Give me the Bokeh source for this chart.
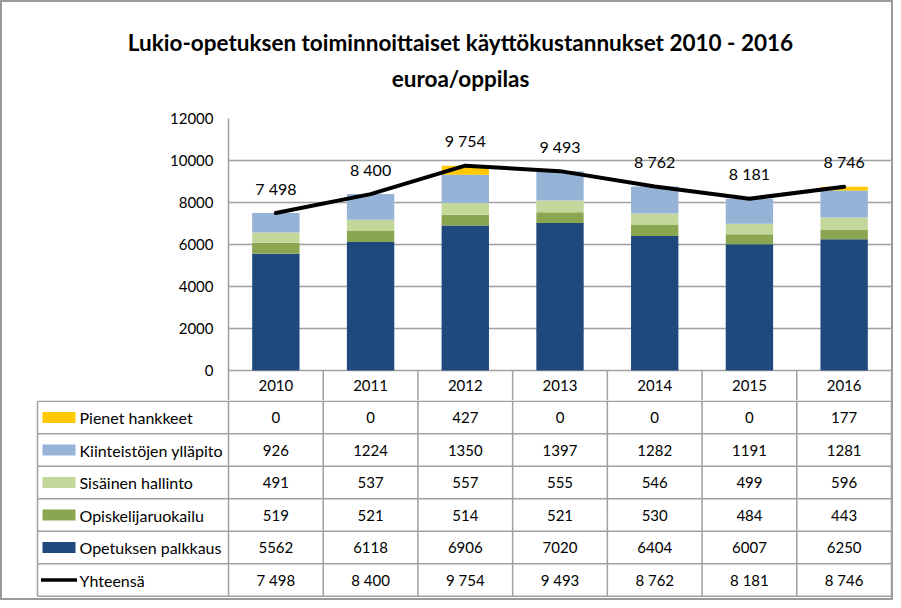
from bokeh.plotting import figure
from bokeh.models import ColumnDataSource, Range1d, FixedTicker, NumeralTickFormatter
from bokeh.layouts import column
from bokeh.core.properties import value
from bokeh.embed import file_html
from bokeh.resources import INLINE

# ---------------- data ----------------
years = ["2010", "2011", "2012", "2013", "2014", "2015", "2016"]
opetuksen_palkkaus = [5562, 6118, 6906, 7020, 6404, 6007, 6250]
opiskelijaruokailu = [519, 521, 514, 521, 530, 484, 443]
sisainen_hallinto = [491, 537, 557, 555, 546, 499, 596]
kiinteistojen_yllapito = [926, 1224, 1350, 1397, 1282, 1191, 1281]
pienet_hankkeet = [0, 0, 427, 0, 0, 0, 177]
yhteensa = [7498, 8400, 9754, 9493, 8762, 8181, 8746]

series_names = ["Opetuksen palkkaus", "Opiskelijaruokailu", "Sisäinen hallinto",
                "Kiinteistöjen ylläpito", "Pienet hankkeet"]
series_values = [opetuksen_palkkaus, opiskelijaruokailu, sisainen_hallinto,
                 kiinteistojen_yllapito, pienet_hankkeet]
series_colors = ["#1F497D", "#8AA650", "#C4D79B", "#95B3D7", "#FFC800"]
total_name = "Yhteensä"
y_ticks = [0, 2000, 4000, 6000, 8000, 10000, 12000]

title_1 = "Lukio-opetuksen toiminnoittaiset käyttökustannukset 2010 - 2016"
title_2 = "euroa/oppilas"

FNAME = "Lato"
FONT = value(FNAME)
GRIDC = "#A0A0A0"
TXT = "#000000"

W = 893
H = 600
FRAME_L = 228
FRAME_W = 663
cat_w = FRAME_W / len(years)          # px per category


def fmt_space(v):
    return f"{v:,}".replace(",", " ")


def bare(fig):
    fig.grid.visible = False
    fig.border_fill_color = None
    fig.background_fill_color = None
    fig.outline_line_color = None


x_pos = [i + 0.5 for i in range(len(years))]

# ---------------- title figure ----------------
TH = 108
pt = figure(width=W, height=TH, output_backend="svg", toolbar_location=None,
            x_range=Range1d(0, W), y_range=Range1d(0, TH),
            x_axis_location=None, y_axis_location=None,
            min_border=0, frame_align=False)
bare(pt)
pt.text(x=[460, 460], y=[TH - 42, TH - 78], text=[title_1, title_2],
        text_align="center", text_baseline="middle", text_font=FONT,
        text_font_size="22.5px", text_font_style="bold", text_color=TXT)

# ---------------- chart figure (plot area + header row of years) ----------------
PLOT_H = 252          # px for 0..12000
HEAD_H = 30           # px header row below the 0 line
TOP = 10
CH = TOP + PLOT_H + HEAD_H
units_per_px = 12000 / PLOT_H
y_bottom = -HEAD_H * units_per_px

p = figure(width=W, height=CH, output_backend="svg", toolbar_location=None,
           x_range=Range1d(0, len(years) + 1 / cat_w), y_range=Range1d(y_bottom, 12000),
           x_axis_location=None, min_border_left=FRAME_L,
           min_border_right=W - FRAME_L - FRAME_W - 1,
           min_border_top=TOP, min_border_bottom=0, frame_align=False)
bare(p)
p.ygrid.visible = True
p.ygrid.ticker = FixedTicker(ticks=y_ticks)
p.ygrid.grid_line_color = GRIDC
p.ygrid.grid_line_width = 1.5
yax = p.yaxis[0]
yax.ticker = FixedTicker(ticks=y_ticks)
yax.formatter = NumeralTickFormatter(format="0")
yax.axis_line_color = GRIDC
yax.axis_line_width = 1.5
yax.major_tick_out = 0
yax.major_tick_in = 0
yax.minor_tick_out = 0
yax.minor_tick_in = 0
yax.major_label_standoff = 15
yax.major_label_text_font = FNAME
yax.major_label_text_font_size = "15px"
yax.major_label_text_color = TXT

data = {"x": x_pos, "total": yhteensa, "label": [fmt_space(v) for v in yhteensa]}
for n, v in zip(series_names, series_values):
    data[n] = v
src = ColumnDataSource(data)
p.vbar_stack(series_names, x="x", width=0.5, color=series_colors, line_color=None,
             source=src)
p.line(x="x", y="total", source=src, line_color=TXT, line_width=4,
       line_join="round", line_cap="round")
p.text(x="x", y="total", text="label", source=src, y_offset=-25,
       text_align="center", text_baseline="middle", text_font=FONT,
       text_font_size="16px", text_color=TXT)

# header row: vertical dividers and years
div_x = list(range(1, len(years) + 1))
p.segment(x0=div_x, y0=[0] * len(div_x), x1=div_x, y1=[y_bottom] * len(div_x),
          line_color=GRIDC, line_width=1.5)
p.text(x=x_pos, y=[y_bottom / 2] * len(years), text=years,
       text_align="center", text_baseline="middle", text_font=FONT,
       text_font_size="15px", text_color=TXT)

# ---------------- data table figure ----------------
ROW_H = 32.5
TBH = H - TH - CH
LABEL_L = 37  # px from figure left
tx0 = -FRAME_L / cat_w
tx1 = len(years) + (W - FRAME_L - FRAME_W) / cat_w
t = figure(width=W, height=TBH, output_backend="svg", toolbar_location=None,
           x_range=Range1d(tx0, tx1), y_range=Range1d(0, TBH),
           x_axis_location=None, y_axis_location=None,
           min_border=0, frame_align=False)
bare(t)

lab_left = (LABEL_L - FRAME_L) / cat_w
row_names = ["Pienet hankkeet", "Kiinteistöjen ylläpito", "Sisäinen hallinto",
             "Opiskelijaruokailu", "Opetuksen palkkaus", total_name]
row_vals = [pienet_hankkeet, kiinteistojen_yllapito, sisainen_hallinto,
            opiskelijaruokailu, opetuksen_palkkaus, yhteensa]
row_cols = ["#FFC800", "#95B3D7", "#C4D79B", "#8AA650", "#1F497D", None]
nrows = len(row_names)
top_y = TBH - 0.75
bottom = top_y - nrows * ROW_H

hx0, hx1, hy0, hy1 = [], [], [], []
for r in range(nrows + 1):
    yy = top_y - r * ROW_H
    hx0.append(lab_left); hx1.append(len(years)); hy0.append(yy); hy1.append(yy)
hx0.append(lab_left); hx1.append(lab_left); hy0.append(top_y); hy1.append(bottom)
for c in range(len(years) + 1):
    hx0.append(c); hx1.append(c); hy0.append(TBH); hy1.append(bottom)
t.segment(x0=hx0, y0=hy0, x1=hx1, y1=hy1, line_color=GRIDC, line_width=1.5)

key_l = (LABEL_L + 5 - FRAME_L) / cat_w
key_r = (LABEL_L + 38 - FRAME_L) / cat_w
txt_l = (LABEL_L + 42 - FRAME_L) / cat_w
for r, (nm, vals, colr) in enumerate(zip(row_names, row_vals, row_cols)):
    yc = top_y - r * ROW_H - ROW_H / 2
    if colr is not None:
        t.quad(left=[key_l], right=[key_r], bottom=[yc - 5.5], top=[yc + 5.5],
               fill_color=colr, line_color=None)
        labels = [str(v) for v in vals]
    else:
        t.segment(x0=[key_l - 1.5 / cat_w], y0=[yc], x1=[key_r + 1.5 / cat_w], y1=[yc],
                  line_color=TXT, line_width=3.5)
        labels = [fmt_space(v) for v in vals]
    t.text(x=[txt_l], y=[yc], text=[nm], text_align="left", text_baseline="middle",
           text_font=FONT, text_font_size="16px", text_color=TXT)
    t.text(x=x_pos, y=[yc] * len(years), text=labels, text_align="center",
           text_baseline="middle", text_font=FONT, text_font_size="15px",
           text_color=TXT)

layout = column(pt, p, t, spacing=0,
                styles={"box-shadow": "inset 0 0 0 2px #9A9A9A",
                        "background-color": "#FFFFFF"})

open("out.html", "w").write(file_html(layout, INLINE))
